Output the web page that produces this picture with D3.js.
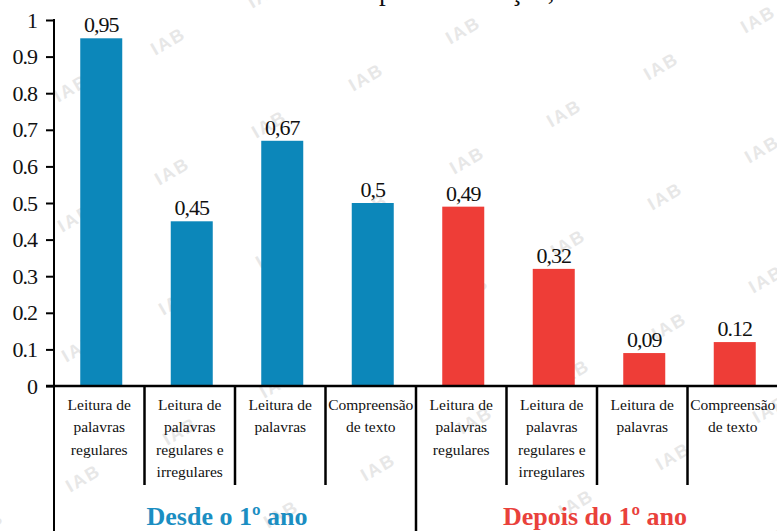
<!DOCTYPE html>
<html>
<head>
<meta charset="utf-8">
<script src="https://cdn.jsdelivr.net/npm/d3@7"></script>
<style>
  body { margin: 0; background: #fff; }
  svg { display: block; }
  .serif { font-family: "Liberation Serif", "Times New Roman", serif; }
  .tick text { font-family: "Liberation Serif", serif; font-size: 22px; fill: #111; letter-spacing: -1px; }
  .tick line { stroke: #000; stroke-width: 2px; }
</style>
</head>
<body>
<div id="app"></div>
<script>
// data
const CATEGORIES = [
  ['Leitura de', 'palavras', 'regulares'],
  ['Leitura de', 'palavras', 'regulares e', 'irregulares'],
  ['Leitura de', 'palavras'],
  ['Compreensão', 'de texto'],
  ['Leitura de', 'palavras', 'regulares'],
  ['Leitura de', 'palavras', 'regulares e', 'irregulares'],
  ['Leitura de', 'palavras'],
  ['Compreensão', 'de texto']
];
const VALUES = [0.95, 0.45, 0.67, 0.5, 0.49, 0.32, 0.09, 0.12];
const VALUE_LABELS = ['0,95', '0,45', '0,67', '0,5', '0,49', '0,32', '0,09', '0.12'];
const GROUP_OF = [0, 0, 0, 0, 1, 1, 1, 1];
const GROUPS = ['Desde o 1º ano', 'Depois do 1º ano'];
const Y_TICKS = [0, 0.1, 0.2, 0.3, 0.4, 0.5, 0.6, 0.7, 0.8, 0.9, 1];
const TITLE_PRE = 'Tamanho de efeito ';
const TITLE_POST = 'por intervenção,';

const BAR_COLORS = ['#0c87ba', '#ee3d37'];
const GROUP_COLORS = ['#1b8ec2', '#e9413b'];

const width = 777, height = 531;
const axisX = 54, baseY = 386;

const svg = d3.select('#app').append('svg')
    .attr('width', width)
    .attr('height', height);

// watermark lattice
const wm = svg.append('g').attr('class', 'watermark');
for (let i = -3; i <= 9; i++) {
  for (let j = -1; j <= 6; j++) {
    const px = 168 + 97 * i + 4 * j
        , py = 41 - 47 * i + 130 * j;
    if (px < -30 || px > width + 30 || py < -20 || py > height + 20) continue;
    wm.append('text')
        .attr('transform', `translate(${px}, ${py}) rotate(-30)`)
        .attr('text-anchor', 'middle')
        .attr('dy', '0.35em')
        .style('font-family', '"Liberation Sans", Arial, sans-serif')
        .style('font-weight', 'bold')
        .style('font-size', '18px')
        .style('letter-spacing', '2px')
        .style('fill', '#e7e7e7')
        .text('IAB');
  }
}

// title (cut off at the top, only descenders show)
const title = svg.append('text')
    .attr('class', 'serif')
    .attr('y', 0)
    .style('font-size', '27px')
    .style('fill', '#111');
title.append('tspan').text(TITLE_PRE);
title.append('tspan').text(TITLE_POST);
const preW = title.select('tspan').node().getComputedTextLength();
title.attr('x', 379 - preW);

const x = d3.scaleBand()
    .domain(d3.range(CATEGORIES.length))
    .range([axisX, 778])
    .padding(0);

const y = d3.scaleLinear()
    .domain([0, 1])
    .range([baseY, 20]);

const barW = 42;

// bars
svg.selectAll('.bar')
    .data(VALUES)
  .enter().append('rect')
    .attr('class', 'bar')
    .attr('x', (d, i) => x(i) + (x.bandwidth() - barW) / 2 + 2)
    .attr('y', d => y(d))
    .attr('width', barW)
    .attr('height', d => baseY - y(d))
    .style('fill', (d, i) => BAR_COLORS[GROUP_OF[i]]);

// value labels
svg.selectAll('.value')
    .data(VALUES)
  .enter().append('text')
    .attr('class', 'value serif')
    .attr('x', (d, i) => x(i) + x.bandwidth() / 2 + 2)
    .attr('y', d => y(d) - 6)
    .attr('text-anchor', 'middle')
    .style('font-size', '22px')
    .style('letter-spacing', '-1px')
    .style('fill', '#111')
    .text((d, i) => VALUE_LABELS[i]);

// y axis
const yAxis = d3.axisLeft(y)
    .tickValues(Y_TICKS)
    .tickSize(8)
    .tickPadding(9)
    .tickFormat(d => String(+d.toFixed(1)));

svg.append('g')
    .attr('class', 'y axis')
    .attr('transform', `translate(${axisX}, 0)`)
    .call(yAxis)
    .call(g => g.select('.domain').remove());

svg.append('line')
    .attr('x1', axisX).attr('x2', axisX)
    .attr('y1', 19).attr('y2', height)
    .style('stroke', '#000').style('stroke-width', 2);

// x axis baseline
svg.append('line')
    .attr('x1', axisX - 8).attr('x2', width)
    .attr('y1', baseY).attr('y2', baseY)
    .style('stroke', '#000').style('stroke-width', 2.5);

// category separators
d3.range(1, CATEGORIES.length).forEach(i => {
  const groupEdge = GROUP_OF[i] !== GROUP_OF[i - 1];
  svg.append('line')
      .attr('x1', x(i)).attr('x2', x(i))
      .attr('y1', baseY).attr('y2', groupEdge ? height : 485)
      .style('stroke', '#000').style('stroke-width', 2.5);
});

// category labels
const cat = svg.selectAll('.cat')
    .data(CATEGORIES)
  .enter().append('text')
    .attr('class', 'cat serif')
    .attr('text-anchor', 'middle')
    .style('font-size', '15.5px')
    .style('fill', '#111');

cat.selectAll('tspan')
    .data((d, i) => d.map(line => ({ line, i })))
  .enter().append('tspan')
    .attr('x', d => x(d.i) + x.bandwidth() / 2)
    .attr('y', (d, k) => 410 + k * 22.3)
    .text(d => d.line);

// group labels
svg.selectAll('.group')
    .data(GROUPS)
  .enter().append('text')
    .attr('class', 'group serif')
    .attr('x', (d, g) => {
      const idx = d3.range(GROUP_OF.length).filter(i => GROUP_OF[i] === g);
      return (x(idx[0]) + x(idx[idx.length - 1]) + x.bandwidth()) / 2 - (g === 0 ? 8 : 2);
    })
    .attr('y', 525)
    .attr('text-anchor', 'middle')
    .style('font-size', '26px')
    .style('font-weight', 'bold')
    .style('fill', (d, g) => GROUP_COLORS[g])
    .text(d => d);
</script>
</body>
</html>
